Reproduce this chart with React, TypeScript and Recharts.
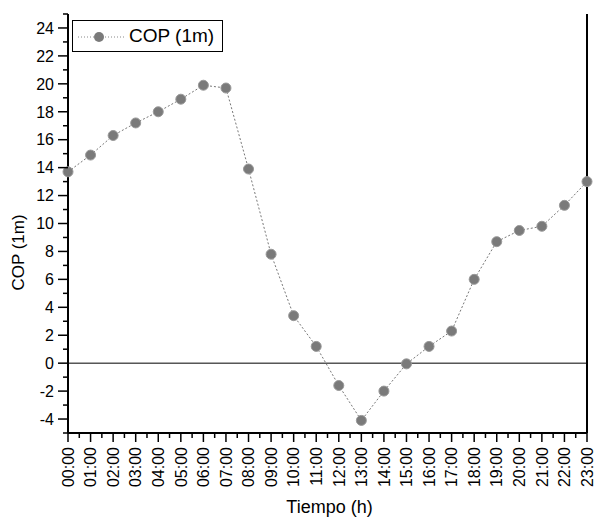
import {
  Line,
  LineChart,
  ReferenceLine,
  XAxis,
  YAxis,
} from "recharts";

const hours = [
  "00:00", "01:00", "02:00", "03:00", "04:00", "05:00", "06:00", "07:00",
  "08:00", "09:00", "10:00", "11:00", "12:00", "13:00", "14:00", "15:00",
  "16:00", "17:00", "18:00", "19:00", "20:00", "21:00", "22:00", "23:00",
];

const cop = [
  13.7, 14.9, 16.3, 17.2, 18.0, 18.9, 19.9, 19.7, 13.9, 7.8, 3.4, 1.2,
  -1.6, -4.1, -2.0, -0.05, 1.2, 2.3, 6.0, 8.7, 9.5, 9.8, 11.3, 13.0,
];

const yTicks = [
  -5, -4, -3, -2, -1, 0, 1, 2, 3, 4, 5, 6, 7, 8, 9, 10, 11, 12, 13, 14, 15,
  16, 17, 18, 19, 20, 21, 22, 23, 24, 25,
];
const yLabels = [-4, -2, 0, 2, 4, 6, 8, 10, 12, 14, 16, 18, 20, 22, 24];

const chartData = hours.map((h, i) => ({ idx: i, label: h, cop: cop[i] }));
const xTicks = hours.flatMap((_, i) => (i < hours.length - 1 ? [i, i + 0.5] : [i]));

const FONT = "Arial, 'Liberation Sans', sans-serif";

function XTick(props: any) {
  const { x, y, payload } = props;
  const v = payload.value as number;
  const major = Number.isInteger(v);
  return (
    <g>
      <line x1={x} y1={y} x2={x} y2={y + (major ? 9 : 5)} stroke="#000" strokeWidth={1.5} />
      {major && (
        <text
          x={x}
          y={y + 14}
          transform={`rotate(-90, ${x}, ${y + 14})`}
          textAnchor="end"
          dy="0.36em"
          fontSize={16}
          fontFamily={FONT}
          fill="#000"
        >
          {hours[v]}
        </text>
      )}
    </g>
  );
}

function YTick(props: any) {
  const { x, y, payload } = props;
  const v = payload.value as number;
  const major = yLabels.includes(v);
  return (
    <g>
      <line x1={x - (major ? 10 : 5)} y1={y} x2={x} y2={y} stroke="#000" strokeWidth={1.5} />
      {major && (
        <text x={x - 14} y={y} textAnchor="end" dy="0.36em" fontSize={16} fontFamily={FONT} fill="#000">
          {v}
        </text>
      )}
    </g>
  );
}

function YTickRight(props: any) {
  const { x, y, payload } = props;
  const v = payload.value as number;
  const major = yLabels.includes(v);
  return <line x1={x} y1={y} x2={x - (major ? 4 : 2)} y2={y} stroke="#333" strokeWidth={1} />;
}

function YTitle(props: any) {
  const { viewBox } = props;
  const cx = 18;
  const cy = viewBox.y + viewBox.height / 2 + 29;
  return (
    <text
      x={cx}
      y={cy}
      transform={`rotate(-90, ${cx}, ${cy})`}
      textAnchor="middle"
      dy="0.36em"
      fontSize={17}
      fontFamily={FONT}
      fill="#000"
    >
      COP (1m)
    </text>
  );
}

function XTitle(props: any) {
  const { viewBox } = props;
  return (
    <text
      x={viewBox.x + viewBox.width / 2 + 2}
      y={513}
      textAnchor="middle"
      fontSize={18}
      fontFamily={FONT}
      fill="#000"
    >
      Tiempo (h)
    </text>
  );
}

function LegendBox() {
  return (
    <div
      style={{
        position: "absolute",
        left: 72,
        top: 20,
        width: 149,
        height: 30,
        border: "1px solid #000",
        background: "#fff",
        display: "flex",
        alignItems: "center",
        fontFamily: FONT,
        fontSize: 19,
      }}
    >
      <svg width={56} height={30}>
        <line x1={5} y1={16} x2={51} y2={16} stroke="#888" strokeDasharray="1 2" />
        <circle cx={26} cy={16} r={5} fill="#7a7a7a" />
      </svg>
      <span>COP (1m)</span>
    </div>
  );
}

export default function App() {
  return (
    <div style={{ position: "absolute", left: 0, top: 0, background: "#fff" }}>
      <LineChart
        width={595}
        height={519}
        data={chartData}
        margin={{ top: 14, right: 0, left: 0, bottom: 0 }}
      >
        <XAxis
          dataKey="idx"
          type="number"
          domain={[0, 23]}
          ticks={xTicks}
          interval={0}
          tick={<XTick />}
          tickSize={0}
          tickMargin={0}
          tickLine={false}
          height={86}
          axisLine={{ stroke: "#000", strokeWidth: 2 }}
          label={{ content: <XTitle /> }}
        />
        <XAxis
          xAxisId="top"
          orientation="top"
          dataKey="idx"
          type="number"
          domain={[0, 23]}
          height={0}
          tick={false}
          tickLine={false}
          axisLine={{ stroke: "#000", strokeWidth: 2 }}
        />
        <YAxis
          type="number"
          domain={[-5, 25]}
          ticks={yTicks}
          interval={0}
          tick={<YTick />}
          tickSize={0}
          tickMargin={0}
          tickLine={false}
          width={68}
          axisLine={{ stroke: "#000", strokeWidth: 2 }}
          label={{ content: <YTitle /> }}
        />
        <YAxis
          yAxisId="right"
          orientation="right"
          type="number"
          domain={[-5, 25]}
          ticks={yTicks}
          interval={0}
          tick={<YTickRight />}
          tickSize={0}
          tickMargin={0}
          tickLine={false}
          width={8}
          axisLine={{ stroke: "#000", strokeWidth: 2 }}
        />
        <ReferenceLine y={0} stroke="#000" strokeWidth={1} />
        <Line
          type="linear"
          dataKey="cop"
          stroke="#777"
          strokeWidth={1}
          strokeDasharray="2 2"
          dot={{ r: 5, fill: "#7a7a7a", stroke: "#999", strokeWidth: 1, strokeDasharray: "" }}
          isAnimationActive={false}
        />
      </LineChart>
      <LegendBox />
    </div>
  );
}
